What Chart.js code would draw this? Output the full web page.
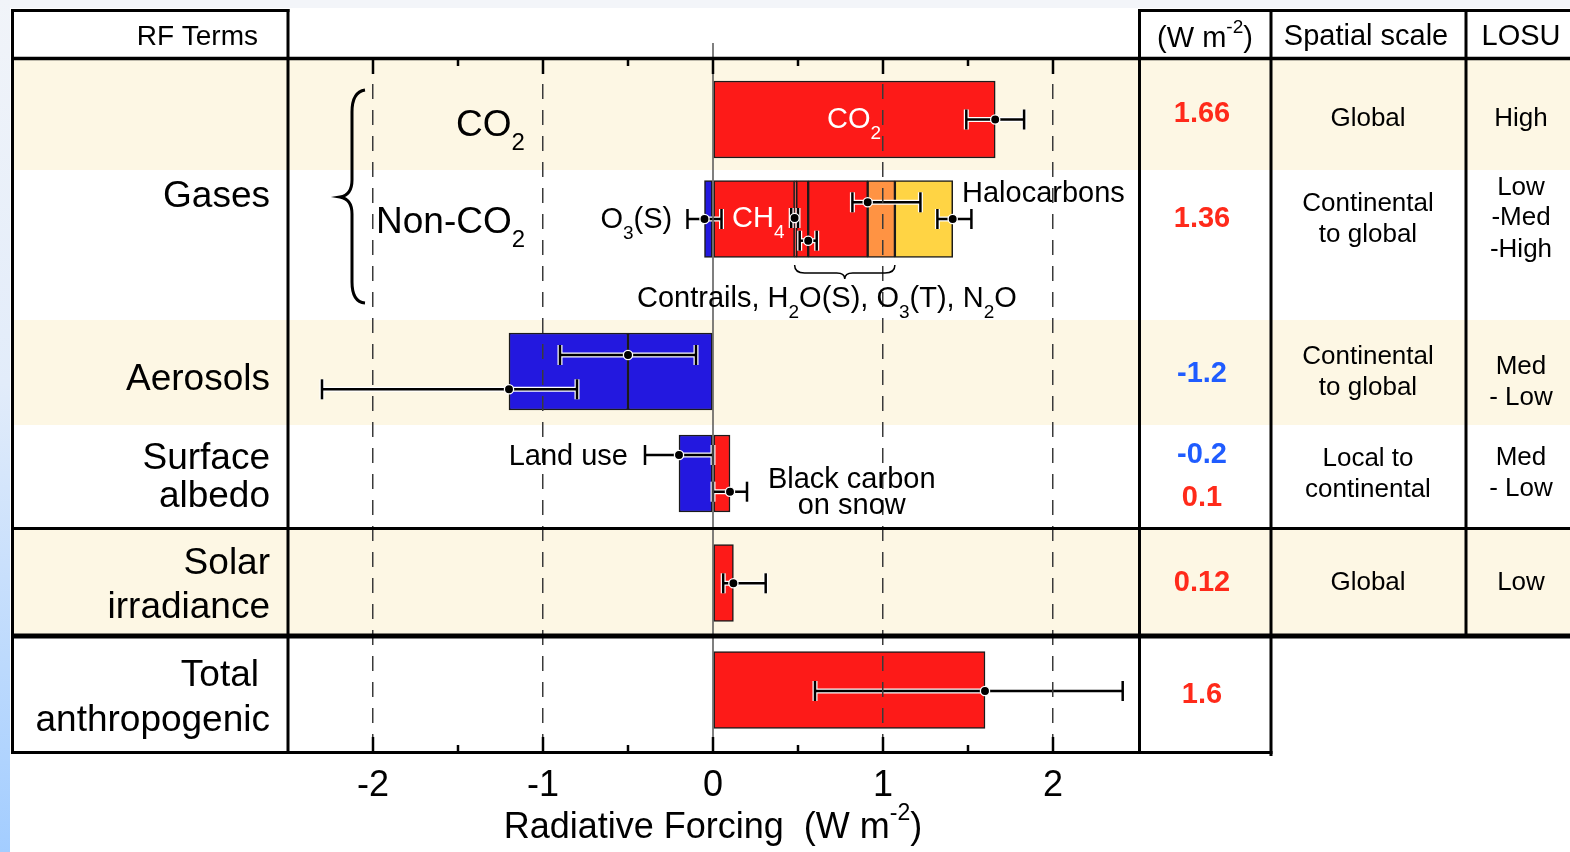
<!DOCTYPE html>
<html>
<head>
<meta charset="utf-8">
<script src="https://cdn.jsdelivr.net/npm/chart.js@4.4.1/dist/chart.umd.min.js"></script>
<style>
  html, body { margin: 0; padding: 0; background: #f3f5f9; }
  #wrap { position: relative; width: 1570px; height: 852px; overflow: hidden; }
  #edge { position: absolute; left: 0; top: 0; width: 10px; height: 852px;
          background: linear-gradient(to bottom, #f1f4f9 0%, #e2ecfa 45%, #a3cdff 100%); }
  #chart { position: absolute; left: 0; top: 0; }
</style>
</head>
<body>
<div id="wrap"><div id="edge"></div><canvas id="chart" width="1570" height="852"></canvas></div>
<script>
// forcing components (W m-2), stacked segments per row
var components = ['CO2', 'O3(S)', 'CH4', 'Contrails', 'H2O(S)', 'O3(T)', 'N2O', 'Halocarbons',
                  'Aerosol direct', 'Cloud albedo', 'Land use', 'Black carbon on snow', 'Solar irradiance', 'Total anthropogenic'];
var compFrom = [0, -0.05, 0, 0.48, 0.49, 0.56, 0.91, 1.07, -0.5, -1.2, -0.2, 0, 0, 0];
var compTo   = [1.66, 0, 0.48, 0.49, 0.56, 0.91, 1.07, 1.41, 0, -0.5, 0, 0.1, 0.12, 1.6];
var compRow  = [0.615, 1.61, 1.61, 1.61, 1.61, 1.61, 1.61, 1.61, 3.135, 3.135, 4.155, 4.155, 5.25, 6.32];
var compKind = ['warm', 'cool', 'warm', 'warm', 'warm', 'warm', 'n2o', 'halo', 'cool', 'cool', 'cool', 'warm', 'warm', 'warm'];

// uncertainty ranges
var errMid  = [1.66, -0.05, 0.48, 0.56, 0.91, 1.41, -0.5, -1.2, -0.2, 0.1, 0.12, 1.6];
var errLow  = [1.49, -0.15, 0.46, 0.51, 0.82, 1.32, -0.9, -2.3, -0.4, 0.0, 0.06, 0.6];
var errHigh = [1.83, 0.05, 0.50, 0.61, 1.22, 1.52, -0.1, -0.8, 0.0, 0.2, 0.31, 2.41];
var errRow  = [0.615, 1.61, 1.60, 1.827, 1.443, 1.61, 2.97, 3.313, 3.97, 4.337, 5.253, 6.33];

var tickValues = [-2, -1, 0, 1, 2];
var minorTicks = [-1.5, -0.5, 0.5, 1.5];

var rfText      = ['1.66', '1.36', '-1.2', '-0.2', '0.1', '0.12', '1.6'];
var spatialText = [['Global'], ['Continental', 'to global'], ['Continental', 'to global'], ['Local to', 'continental'], ['Global']];
var losuText    = [['High'], ['Low', '-Med', '-High'], ['Med', '- Low'], ['Med', '- Low'], ['Low']];

var FONT = "'Liberation Sans', Arial, Helvetica, sans-serif";
var kindColor = { warm: '#fd1a18', cool: '#2318df', n2o: '#ff9343', halo: '#ffd444' };

function rich(ctx, parts, x, y, size, align, color, weight) {
  var w = 0, i, cx, dy;
  ctx.save();
  ctx.fillStyle = color || '#000';
  ctx.textBaseline = 'middle';
  ctx.textAlign = 'left';
  function setFont(p) {
    ctx.font = (weight || 'normal') + ' ' + (p[1] ? Math.round(size * 0.65) : size) + 'px ' + FONT;
  }
  for (i = 0; i < parts.length; i++) { setFont(parts[i]); w += ctx.measureText(parts[i][0]).width; }
  cx = align === 'center' ? x - w / 2 : (align === 'right' ? x - w : x);
  y += size * 0.08;
  for (i = 0; i < parts.length; i++) {
    setFont(parts[i]);
    dy = parts[i][1] < 0 ? size * 0.47 : (parts[i][1] > 0 ? -size * 0.4 : 0);
    ctx.fillText(parts[i][0], cx, y + dy);
    cx += ctx.measureText(parts[i][0]).width;
  }
  ctx.restore();
}

function line(ctx, x1, y1, x2, y2, w, color) {
  ctx.beginPath();
  ctx.lineWidth = w;
  ctx.strokeStyle = color || '#000';
  ctx.moveTo(x1, y1);
  ctx.lineTo(x2, y2);
  ctx.stroke();
}

var tablePlugin = {
  id: 'rfTable',
  beforeDraw: function(chart) {
    var ctx = chart.ctx;
    ctx.save();
    ctx.fillStyle = '#ffffff';
    ctx.fillRect(10, 8, 1560, 844);
    ctx.fillStyle = '#fdf7e4';
    [[58, 170], [320, 425], [528, 635]].forEach(function(b) {
      ctx.fillRect(12, b[0], 1558, b[1] - b[0]);
    });
    ctx.restore();
  },
  beforeDatasetDraw: function(chart, args) {
    if (args.index !== 1) return;
    var ctx = chart.ctx, xs = chart.scales.x, ys = chart.scales.y;
    ctx.save();
    ctx.lineCap = 'butt';
    [['#ffffff', 5], ['#000000', 2.5]].forEach(function(pass) {
      for (var i = 0; i < errMid.length; i++) {
        var y = ys.getPixelForValue(errRow[i]);
        var a = xs.getPixelForValue(errLow[i]), b = xs.getPixelForValue(errHigh[i]);
        line(ctx, a, y, b, y, pass[1], pass[0]);
        line(ctx, a, y - 10, a, y + 10, pass[1], pass[0]);
        line(ctx, b, y - 10, b, y + 10, pass[1], pass[0]);
      }
    });
    ctx.restore();
  },
  afterDraw: function(chart) {
    var ctx = chart.ctx, xs = chart.scales.x, ys = chart.scales.y;
    var ca = chart.chartArea;
    var X = function(v) { return xs.getPixelForValue(v); };
    var Y = function(v) { return ys.getPixelForValue(v); };
    ctx.save();

    // zero line
    line(ctx, X(0), 43, X(0), ca.bottom, 1.5, '#555');

    // inward ticks, top and bottom
    tickValues.map(function(v) { return [v, 15]; }).concat(minorTicks.map(function(v) { return [v, 7]; }))
      .forEach(function(t) {
        var x = X(t[0]);
        line(ctx, x, ca.bottom, x, ca.bottom - t[1], 2.5);
        line(ctx, x, ca.top + 1, x, ca.top + 1 + t[1], 2.5);
      });

    // table rules
    line(ctx, 11, 10.5, 289.5, 10.5, 3);
    line(ctx, 1138, 10.5, 1570, 10.5, 3);
    line(ctx, 11, 58.5, 1570, 58.5, 3.5);
    line(ctx, 11, 528.5, 1570, 528.5, 3);
    line(ctx, 11, 636, 1570, 636, 5);
    line(ctx, 11, 752.5, 1272.5, 752.5, 3);
    line(ctx, 12.5, 9, 12.5, 754, 3);
    line(ctx, 288, 9, 288, 754, 3);
    line(ctx, 1139.5, 9, 1139.5, 754, 3);
    line(ctx, 1271, 9, 1271, 756, 3);
    line(ctx, 1466, 9, 1466, 636, 3);

    // header
    rich(ctx, [['RF Terms', 0]], 258, 35.5, 28, 'right');
    rich(ctx, [['(W m', 0], ['-2', 1], [')', 0]], 1205, 37, 29, 'center');
    rich(ctx, [['Spatial scale', 0]], 1366, 35, 29, 'center');
    rich(ctx, [['LOSU', 0]], 1521, 35, 29, 'center');

    // left column
    [['Gases', 270, 194], ['Aerosols', 270, 377], ['Surface', 270, 456], ['albedo', 270, 494],
     ['Solar', 270, 561], ['irradiance', 270, 605], ['Total', 259, 673], ['anthropogenic', 270, 718]]
      .forEach(function(t) { rich(ctx, [[t[0], 0]], t[1], t[2], 37, 'right'); });

    // values column
    var rfY = [111.5, 217, 371.7, 453, 495.7, 581, 692.7];
    rfText.forEach(function(s, i) {
      rich(ctx, [[s, 0]], 1202, rfY[i], 29, 'center', parseFloat(s) < 0 ? '#1f5cff' : '#ff2a1a', 'bold');
    });

    var spatialY = [[116.5], [201.5, 232.5], [354.7, 385.7], [456.7, 488], [581]];
    spatialText.forEach(function(lines, i) {
      lines.forEach(function(s, j) { rich(ctx, [[s, 0]], 1368, spatialY[i][j], 26, 'center'); });
    });
    var losuY = [[116.5], [185.5, 216, 247.5], [365, 396], [456, 487], [581]];
    losuText.forEach(function(lines, i) {
      lines.forEach(function(s, j) { rich(ctx, [[s, 0]], 1521, losuY[i][j], 26, 'center'); });
    });

    // plot labels
    rich(ctx, [['CO', 0], ['2', -1]], X(-1.512), Y(0.65), 37, 'left');
    rich(ctx, [['Non-CO', 0], ['2', -1]], X(-1.982), Y(1.62), 37, 'left');
    rich(ctx, [['CO', 0], ['2', -1]], X(0.83), Y(0.60), 29, 'center', '#fff');
    rich(ctx, [['CH', 0], ['4', -1]], X(0.112), Y(1.59), 29, 'left', '#fff');
    rich(ctx, [['O', 0], ['3', -1], ['(S)', 0]], X(-0.24), Y(1.595), 29, 'right');
    rich(ctx, [['Halocarbons', 0]], X(1.465), Y(1.335), 29, 'left');
    rich(ctx, [['Contrails, H', 0], ['2', -1], ['O(S), O', 0], ['3', -1], ['(T), N', 0], ['2', -1], ['O', 0]],
         X(0.67), Y(2.387), 29, 'center');
    rich(ctx, [['Land use', 0]], X(-0.5), Y(3.97), 29, 'right');
    rich(ctx, [['Black carbon', 0]], X(0.816), Y(4.198), 29, 'center');
    rich(ctx, [['on snow', 0]], X(0.816), Y(4.46), 29, 'center');

    // gases brace
    var bx = X(-2);
    ctx.beginPath();
    ctx.lineWidth = 3;
    ctx.strokeStyle = '#000';
    ctx.moveTo(bx - 8, Y(0.32));
    ctx.quadraticCurveTo(bx - 21, Y(0.34), bx - 21, Y(0.54));
    ctx.lineTo(bx - 21, Y(1.22));
    ctx.quadraticCurveTo(bx - 21, Y(1.37), bx - 33, Y(1.39));
    ctx.quadraticCurveTo(bx - 21, Y(1.41), bx - 21, Y(1.56));
    ctx.lineTo(bx - 21, Y(2.24));
    ctx.quadraticCurveTo(bx - 21, Y(2.44), bx - 8, Y(2.45));
    ctx.stroke();

    // brace under the non-CO2 bar
    var x1 = X(compFrom[3]), x2 = X(compTo[6]), mid = (x1 + x2) / 2;
    var yt = Y(compRow[3]) + 46, yb = yt + 8;
    ctx.beginPath();
    ctx.lineWidth = 1.5;
    ctx.moveTo(x1, yt);
    ctx.quadraticCurveTo(x1, yb, x1 + 10, yb);
    ctx.lineTo(mid - 8, yb);
    ctx.quadraticCurveTo(mid, yb, mid, yb + 6);
    ctx.quadraticCurveTo(mid, yb, mid + 8, yb);
    ctx.lineTo(x2 - 10, yb);
    ctx.quadraticCurveTo(x2, yb, x2, yt);
    ctx.stroke();

    // axis title
    rich(ctx, [['Radiative Forcing  (W m', 0], ['-2', 1], [')', 0]], X(0), 825, 36, 'center');
    ctx.restore();
  }
};

var barData = components.map(function(c, i) {
  return { x: [compFrom[i], compTo[i]], y: compRow[i] };
});
var dotData = errMid.map(function(v, i) {
  return { x: v, y: errRow[i] };
});

new Chart(document.getElementById('chart'), {
  type: 'bar',
  data: {
    datasets: [{
      type: 'bar',
      label: 'Radiative forcing',
      data: barData,
      backgroundColor: compKind.map(function(k) { return kindColor[k]; }),
      borderColor: '#1b1b1b',
      borderWidth: 1.5,
      borderSkipped: false,
      barThickness: 77,
      order: 1
    }, {
      type: 'scatter',
      label: 'Best estimate',
      data: dotData,
      pointRadius: 4.6,
      pointBackgroundColor: '#000',
      pointBorderColor: '#fff',
      pointBorderWidth: 1.3,
      showLine: false,
      order: 0
    }]
  },
  options: {
    indexAxis: 'y',
    responsive: false,
    animation: false,
    events: [],
    layout: { padding: { left: 288, right: 432, top: 58, bottom: 0 } },
    plugins: { legend: { display: false }, tooltip: { enabled: false } },
    scales: {
      x: {
        type: 'linear',
        position: 'bottom',
        min: -2.5,
        max: 2.5,
        afterFit: function(s) { s.height = 100; },
        grid: {
          z: 1,
          drawTicks: false,
          lineWidth: 1.5,
          color: function(c) {
            var v = c.tick ? c.tick.value : null;
            return (v !== 0 && tickValues.indexOf(v) >= 0) ? '#3a3a3a' : 'rgba(0,0,0,0)';
          }
        },
        border: { display: false, dash: [15, 11] },
        ticks: {
          stepSize: 0.5,
          autoSkip: false,
          maxRotation: 0,
          padding: 12,
          color: '#000',
          font: { family: FONT, size: 36 },
          callback: function(v) { return tickValues.indexOf(v) >= 0 ? String(v) : ''; }
        }
      },
      y: {
        type: 'linear',
        display: false,
        reverse: true,
        offset: false,
        min: 0,
        max: 6.94
      }
    }
  },
  plugins: [tablePlugin]
});
</script>
</body>
</html>
